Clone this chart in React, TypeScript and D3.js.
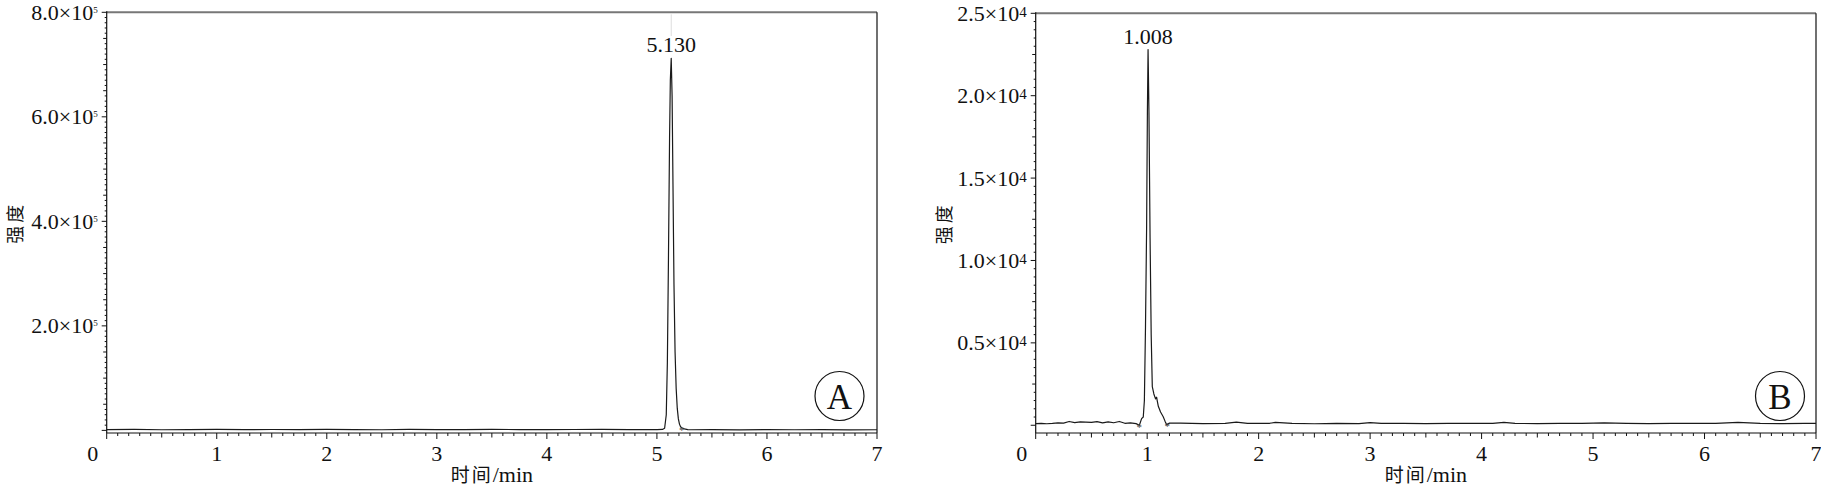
import React from "react";
import * as d3 from "d3";

// ---------- data ----------
const timeA = [0, 0.25, 0.5, 0.75, 1, 1.25, 1.5, 1.75, 2, 2.25, 2.5, 2.75, 3, 3.25, 3.5, 3.75, 4, 4.25, 4.5, 4.75, 5, 5.05,
  5.07, 5.085, 5.095, 5.105, 5.115, 5.122, 5.13, 5.138, 5.146, 5.155, 5.165, 5.175, 5.185, 5.195, 5.205, 5.215, 5.225, 5.25, 5.28,
  5.3, 5.5, 5.75, 6, 6.25, 6.5, 6.75, 7];
const intensityA = [1500, 1800, 1200, 1600, 2000, 1400, 1700, 1300, 1900, 1500, 1200, 1800, 1600, 1400, 2000, 1500, 1300, 1700, 1900, 1500, 1600, 1800,
  4000, 30000, 130000, 330000, 560000, 670000, 712000, 640000, 470000, 280000, 150000, 80000, 42000, 22000, 12000, 7000, 5000, 3000, 1500,
  1200, 1300, 1100, 1400, 1200, 1300, 1100, 1200];

const timeB = [0, 0.05, 0.1, 0.15, 0.2, 0.25, 0.3, 0.35, 0.4, 0.45, 0.5, 0.55, 0.6, 0.65, 0.7, 0.75, 0.8, 0.85, 0.9,
  0.93, 0.95, 0.965, 0.975, 0.985, 0.995, 1.002, 1.008, 1.016, 1.026, 1.036, 1.046, 1.06, 1.075, 1.085, 1.09, 1.1, 1.12, 1.144, 1.16, 1.175, 1.2,
  1.3, 1.5, 1.7, 1.8, 1.9, 2.1, 2.15, 2.3, 2.5, 2.7, 2.9, 3.0, 3.1, 3.3, 3.5, 3.7, 3.9, 4.1, 4.2, 4.3, 4.5, 4.7, 4.9, 5.1, 5.3, 5.5, 5.7, 5.9, 6.1, 6.3, 6.5, 6.7, 6.9, 7.0];
const intensityB = [100, 120, 90, 110, 150, 130, 230, 160, 200, 190, 170, 220, 140, 210, 150, 230, 120, 140, 100,
  0, 400, 500, 1500, 6000, 12000, 19000, 22800, 19000, 11400, 5500, 2340, 1900, 1600, 1700, 1500, 1150, 800, 520, 250, 30, 130,
  130, 100, 110, 190, 110, 120, 170, 110, 90, 110, 100, 160, 110, 115, 100, 120, 110, 115, 180, 110, 100, 120, 110, 150, 115, 100, 120, 110, 115, 170, 115, 100, 120, 110];

const xMajorTicks = [0, 1, 2, 3, 4, 5, 6, 7];
const yLabelsA = [200000, 400000, 600000, 800000];
const yLabelsB = [5000, 10000, 15000, 20000, 25000];
const yTextA = ["2.0×10", "4.0×10", "6.0×10", "8.0×10"];
const yTextB = ["0.5×10", "1.0×10", "1.5×10", "2.0×10", "2.5×10"];
const peakA = { t: 5.13, label: "5.130" };
const peakB = { t: 1.008, label: "1.008" };
const markersA = [5.225];
const markersB = [0.93, 1.18];

const SERIF = "'Liberation Serif', 'Times New Roman', serif";
const CJK = "'Noto Sans CJK SC', sans-serif";

type PanelProps = {
  x0: number; x1: number; yTop: number; yBot: number;
  yMin: number; yMax: number;
  times: number[]; values: number[];
  yLabels: number[]; yTexts: string[]; sup: string; supSize: number; supDy: number;
  yMinorStep: number; yMedStep: number; yMajorStep: number;
  peak: { t: number; label: string }; peakLabelY: number;
  markers: number[];
  letter: string; circleX: number; circleY: number;
  yTitleX: number;
  showGuide: boolean;
};

function Panel(p: PanelProps) {
  const x = d3.scaleLinear().domain([0, 7]).range([p.x0, p.x1]);
  const y = d3.scaleLinear().domain([p.yMin, p.yMax]).range([p.yBot, p.yTop]);
  const line = d3.line<number>().x((_, i) => x(p.times[i])).y((d) => y(d));
  const xMinor = d3.range(0, 70.5).map((i) => i / 10);
  const yMinor = d3.range(0, Math.round(p.yMax / p.yMinorStep) + 1).map((i) => i * p.yMinorStep);
  const interp = (t: number) => {
    const v = d3.scaleLinear().domain(p.times).range(p.values);
    return v(t);
  };
  const peakY = y(d3.max(p.values) as number);
  return (
    <g>
      {/* frame */}
      <line x1={p.x0} x2={p.x1} y1={p.yTop} y2={p.yTop} stroke="#777" strokeWidth={2} />
      <line x1={p.x1} x2={p.x1} y1={p.yTop} y2={p.yBot} stroke="#111" strokeWidth={1.2} />
      <line x1={p.x0} x2={p.x0} y1={p.yTop - 1} y2={p.yBot} stroke="#111" strokeWidth={1.2} />
      <line x1={p.x0} x2={p.x1} y1={p.yBot} y2={p.yBot} stroke="#111" strokeWidth={1.2} />
      {/* x ticks */}
      {xMinor.map((t, i) => {
        const len = i % 10 === 0 ? 6 : i % 5 === 0 ? 4.5 : 3;
        return <line key={"xt" + i} x1={x(t)} x2={x(t)} y1={p.yBot} y2={p.yBot + len} stroke="#111" strokeWidth={1} />;
      })}
      {xMajorTicks.map((t) => (
        <text key={"xl" + t} x={t === 0 ? x(t) - 14 : x(t)} y={p.yBot + 28} textAnchor="middle"
          fontFamily={SERIF} fontSize={22} fill="#111">{t}</text>
      ))}
      {/* y ticks */}
      {yMinor.map((v, i) => {
        const isMajor = Math.abs(v % p.yMajorStep) < 1e-6;
        const isMed = Math.abs(v % p.yMedStep) < 1e-6;
        const len = isMajor ? 5 : isMed ? 3.5 : 2;
        return <line key={"yt" + i} x1={p.x0 - len} x2={p.x0} y1={y(v)} y2={y(v)} stroke="#111" strokeWidth={1} />;
      })}
      {p.yLabels.map((v, i) => (
        <text key={"yl" + i} x={p.x0 - 9} y={y(v) + 7.5} textAnchor="end" fontFamily={SERIF} fontSize={22} fill="#111">
          {p.yTexts[i]}
          <tspan dy={p.supDy} fontSize={p.supSize}>{p.sup}</tspan>
        </text>
      ))}
      {/* titles */}
      <text transform={`translate(${p.yTitleX},${(p.yTop + p.yBot) / 2}) rotate(-90)`} textAnchor="middle"
        fontFamily={CJK} fontSize={18} fill="#111" dominantBaseline="central" letterSpacing={3}>强度</text>
      <text x={(p.x0 + p.x1) / 2} y={p.yBot + 49} textAnchor="middle" fill="#111">
        <tspan fontFamily={CJK} fontSize={19} letterSpacing={2}>时间</tspan>
        <tspan fontFamily={SERIF} fontSize={22}>/min</tspan>
      </text>
      {/* guide line */}
      {p.showGuide && (
        <line x1={x(p.peak.t)} x2={x(p.peak.t)} y1={p.yTop + 2} y2={p.peakLabelY - 17} stroke="#ddd" strokeWidth={1} />
      )}
      {/* trace */}
      <path d={line(p.values) || ""} fill="none" stroke="#1a1a1a" strokeWidth={1.2} strokeLinejoin="round" />
      {/* integration markers */}
      {p.markers.map((t, i) => (
        <text key={"mk" + i} x={x(t)} y={y(interp(t)) + 6} textAnchor="middle" fontFamily={SERIF} fontSize={11} fill="#444">*</text>
      ))}
      {/* peak label */}
      <text x={x(p.peak.t)} y={Math.min(p.peakLabelY, peakY - 6)} textAnchor="middle" fontFamily={SERIF} fontSize={22} fill="#111">{p.peak.label}</text>
      {/* panel letter */}
      <circle cx={p.circleX} cy={p.circleY} r={24.5} fill="none" stroke="#111" strokeWidth={1.2} />
      <text x={p.circleX} y={p.circleY + 13} textAnchor="middle" fontFamily={SERIF} fontSize={35} fill="#111">{p.letter}</text>
    </g>
  );
}

export default function App() {
  return (
    <svg width={1821} height={488} style={{ position: "absolute", left: 0, top: 0, background: "#fff" }}>
      <rect width={1821} height={488} fill="#fff" />
      <Panel x0={106.7} x1={877} yTop={12.3} yBot={433} yMin={-5000} yMax={800000}
        times={timeA} values={intensityA}
        yLabels={yLabelsA} yTexts={yTextA} sup="5" supSize={9} supDy={-7}
        yMinorStep={10000} yMedStep={50000} yMajorStep={200000}
        peak={peakA} peakLabelY={53} markers={markersA}
        letter="A" circleX={839.5} circleY={396} yTitleX={14} showGuide={true} />
      <Panel x0={1035.7} x1={1816} yTop={13.3} yBot={433} yMin={-470} yMax={25000}
        times={timeB} values={intensityB}
        yLabels={yLabelsB} yTexts={yTextB} sup="4" supSize={15} supDy={-4}
        yMinorStep={500} yMedStep={2500} yMajorStep={5000}
        peak={peakB} peakLabelY={45} markers={markersB}
        letter="B" circleX={1780} circleY={396} yTitleX={943} showGuide={false} />
    </svg>
  );
}
